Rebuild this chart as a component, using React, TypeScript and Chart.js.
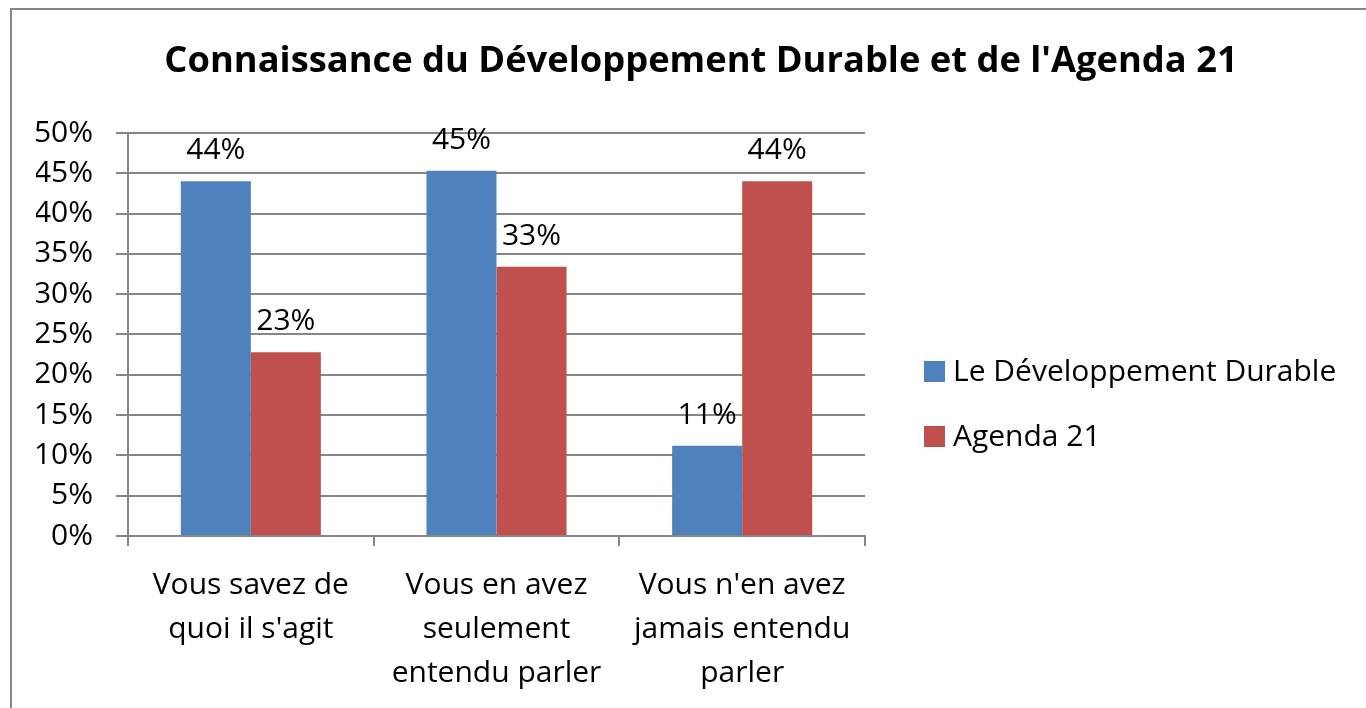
import { useEffect, useRef } from 'react';
import { Chart, registerables, layouts } from 'chart.js';

Chart.register(...registerables);

const categories: string[][] = [
  ['Vous savez de', "quoi il s'agit"],
  ['Vous en avez', 'seulement', 'entendu parler'],
  ["Vous n'en avez", 'jamais entendu', 'parler'],
];
const seriesNames = ['Le Développement Durable', 'Agenda 21'];
const devDurableValues = [0.44, 0.453, 0.112];
const agenda21Values = [0.228, 0.334, 0.44];
const seriesColors = ['#4F81BD', '#C0504D'];
const yMin = 0;
const yMax = 0.5;
const yStep = 0.05;
const titleText = "Connaissance du Développement Durable et de l'Agenda 21";

const FONT = "'Open Sans', 'DejaVu Sans', sans-serif";
const GRID = '#868686';

const pct = (v: number) => `${Math.round(v * 100)}%`;

const framePlugin = {
  id: 'frame',
  beforeDraw(chart: any) {
    const ctx = chart.ctx;
    ctx.save();
    ctx.fillStyle = '#ffffff';
    ctx.fillRect(0, 0, chart.width, chart.height);
    ctx.strokeStyle = '#878787';
    ctx.lineWidth = 2;
    ctx.beginPath();
    ctx.moveTo(11, chart.height);
    ctx.lineTo(11, 9);
    ctx.lineTo(chart.width, 9);
    ctx.stroke();
    ctx.restore();
  },
};

const dataLabelPlugin = {
  id: 'dataLabels',
  afterDatasetsDraw(chart: any) {
    const ctx = chart.ctx;
    ctx.save();
    ctx.font = `30px ${FONT}`;
    ctx.fillStyle = '#000000';
    ctx.textAlign = 'center';
    ctx.textBaseline = 'alphabetic';
    chart.data.datasets.forEach((ds: any, i: number) => {
      const meta = chart.getDatasetMeta(i);
      meta.data.forEach((el: any, j: number) => {
        ctx.fillText(pct(ds.data[j]), el.x, el.y - 22);
      });
    });
    ctx.restore();
  },
};

const legendBoxPlugin = {
  id: 'legendBox',
  beforeInit(chart: any) {
    const box: any = {
      position: 'right',
      weight: 0,
      fullSize: false,
      options: {},
      width: 0,
      height: 0,
      left: 0,
      top: 0,
      right: 0,
      bottom: 0,
      isHorizontal() {
        return false;
      },
      update(maxWidth: number, maxHeight: number) {
        box.width = 501;
        box.height = maxHeight;
      },
      draw() {
        const ctx = chart.ctx;
        ctx.save();
        ctx.font = `30px ${FONT}`;
        ctx.textAlign = 'left';
        ctx.textBaseline = 'middle';
        chart.data.datasets.forEach((ds: any, i: number) => {
          const cy = 372 + i * 65;
          ctx.fillStyle = ds.backgroundColor;
          ctx.fillRect(box.left + 59, cy - 11, 21, 21);
          ctx.fillStyle = '#000000';
          ctx.fillText(ds.label, box.left + 88, cy);
        });
        ctx.restore();
      },
    };
    layouts.addBox(chart, box);
  },
};

export default function App() {
  const canvasRef = useRef<HTMLCanvasElement | null>(null);

  useEffect(() => {
    if (!canvasRef.current) return;
    const chart = new Chart(canvasRef.current, {
      type: 'bar',
      data: {
        labels: categories,
        datasets: [
          {
            label: seriesNames[0],
            data: devDurableValues,
            backgroundColor: seriesColors[0],
            borderWidth: 0,
            categoryPercentage: 0.57,
            barPercentage: 1.0,
          },
          {
            label: seriesNames[1],
            data: agenda21Values,
            backgroundColor: seriesColors[1],
            borderWidth: 0,
            categoryPercentage: 0.57,
            barPercentage: 1.0,
          },
        ],
      },
      options: {
        animation: false,
        responsive: false,
        devicePixelRatio: 1,
        layout: { padding: { left: 36, right: 0, top: 0, bottom: 0 } },
        plugins: {
          legend: { display: false },
          tooltip: { enabled: false },
          title: {
            display: true,
            text: titleText,
            color: '#000000',
            font: { family: FONT, size: 36.3, weight: 'bold', lineHeight: 1.2 },
            padding: { top: 40, bottom: 49.4 },
          },
        },
        scales: {
          x: {
            offset: true,
            grid: {
              offset: true,
              drawOnChartArea: false,
              drawTicks: true,
              tickLength: 10,
              color: GRID,
              lineWidth: 2,
            },
            border: { color: GRID, width: 2 },
            ticks: {
              color: '#000000',
              font: { family: FONT, size: 30, lineHeight: 1.47 },
              padding: 17,
              maxRotation: 0,
              autoSkip: false,
            },
            afterFit(scale: any) {
              scale.height = 172;
            },
          },
          y: {
            min: yMin,
            max: yMax,
            ticks: {
              stepSize: yStep,
              color: '#000000',
              font: { family: FONT, size: 30 },
              padding: 23,
              callback: (v: any) => pct(Number(v)),
            },
            grid: {
              color: GRID,
              lineWidth: 2,
              tickLength: 12,
              drawTicks: true,
            },
            border: { color: GRID, width: 2 },
            afterFit(scale: any) {
              scale.width = 92;
            },
          },
        },
      },
      plugins: [framePlugin, legendBoxPlugin, dataLabelPlugin],
    });
    return () => chart.destroy();
  }, []);

  return (
    <div style={{ position: 'absolute', left: 0, top: 0, width: 1366, height: 708 }}>
      <canvas ref={canvasRef} width={1366} height={708} style={{ display: 'block' }} />
    </div>
  );
}
